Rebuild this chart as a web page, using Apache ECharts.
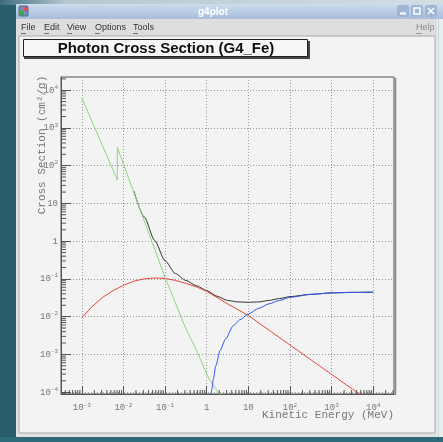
<!DOCTYPE html>
<html>
<head>
<meta charset="utf-8">
<script src="https://cdn.jsdelivr.net/npm/echarts@6/dist/echarts.min.js"></script>
<style>
  html, body { margin: 0; padding: 0; background: #2a5e6c; }
  #chart { width: 443px; height: 442px; }
</style>
</head>
<body>
<div id="chart"></div>
<script>
  // log10(E/MeV) and log10(sigma / cm2 g-1)
  var photoLogE = [-3, -2.699, -2.398, -2.149, -2.147, -2, -1.7, -1.3, -1, -0.52, -0.22, 0.055, 0.32];
  var photoLogXS = [3.8, 3.03, 2.26, 1.62, 2.48, 2.04, 1.14, -0.06, -0.96, -2.27, -2.95, -3.65, -4.07];

  var comptonLogE = [-3, -2.75, -2.5, -2.25, -2, -1.75, -1.5, -1.25, -1, -0.75, -0.5, -0.25, 0, 0.5, 1, 1.5, 2, 2.5, 3, 3.5, 4];
  var comptonLogXS = [-2.03, -1.73, -1.49, -1.31, -1.17, -1.06, -1.0, -0.975, -0.99, -1.04, -1.12, -1.21, -1.33, -1.66, -1.97, -2.36, -2.75, -3.14, -3.53, -3.92, -4.31];

  var pairLogE = [0.08, 0.12, 0.16, 0.22, 0.32, 0.45, 0.64, 0.8, 1.0, 1.25, 1.5, 1.75, 2, 2.5, 3, 3.5, 4];
  var pairLogXS = [-4.3, -3.95, -3.65, -3.3, -2.9, -2.6, -2.24, -2.08, -1.93, -1.78, -1.66, -1.57, -1.49, -1.41, -1.37, -1.36, -1.355];

  var totalLogE = [-1.75, -1.5, -1.25, -1, -0.75, -0.5, -0.25, 0, 0.25, 0.5, 0.75, 1, 1.25, 1.5, 1.75, 2, 2.5, 3, 3.5, 4];
  var totalLogXS = [1.33, 0.64, 0.02, -0.52, -0.86, -1.04, -1.18, -1.31, -1.46, -1.57, -1.61, -1.62, -1.61, -1.57, -1.52, -1.47, -1.41, -1.37, -1.355, -1.35];

  var xMin = -3.5, xMax = 4.5;
  var yMin = -4.05, yMax = 4.35;

  function pairs(xs, ys) {
    return xs.map(function (x, i) { return [x, ys[i]]; });
  }

  // minor tick positions (2..9 in each decade)
  function minorPos(lo, hi) {
    var out = [];
    for (var n = -5; n <= 5; n++) {
      for (var k = 2; k <= 9; k++) {
        var v = n + Math.log10(k);
        if (v > lo && v < hi) out.push(v);
      }
    }
    return out;
  }

  function powLabel(v) {
    if (Math.abs(v - Math.round(v)) > 1e-6) return '';
    var n = Math.round(v);
    if (n === 0) return '{b|1}';
    if (n === 1) return '{b|10}';
    return '{b|10}{s|' + n + '}';
  }

  var labelRich = {
    b: { fontSize: 9, lineHeight: 12, color: '#777', fontFamily: 'Liberation Mono' },
    s: { fontSize: 6, lineHeight: 7, color: '#777', fontFamily: 'Liberation Mono', verticalAlign: 'top' }
  };

  var mono = 'Liberation Mono';
  var sans = 'Liberation Sans';

  var menuItems = [['File', 21], ['Edit', 44], ['View', 67], ['Options', 95], ['Tools', 133]];
  var menuGraphics = [];
  menuItems.forEach(function (m) {
    menuGraphics.push({ type: 'text', z: -8, style: { x: m[1], y: 28, text: m[0], fill: '#333', font: '9px ' + sans, verticalAlign: 'middle' } });
    menuGraphics.push({ type: 'line', z: -8, shape: { x1: m[1], y1: 33.5, x2: m[1] + 5, y2: 33.5 }, style: { stroke: '#555', lineWidth: 0.8 } });
  });

  var chart = echarts.init(document.getElementById('chart'));

  var option = {
    backgroundColor: '#2a5e6c',
    animation: false,
    graphic: [
      { type: 'rect', z: -10, shape: { x: 0, y: 0, width: 443, height: 5 },
        style: { fill: new echarts.graphic.LinearGradient(0, 0, 1, 0, [{ offset: 0, color: '#3d6e7b' }, { offset: 0.15, color: '#b7c8d2' }, { offset: 1, color: '#d3dde4' }]) } },
      { type: 'rect', z: -10, shape: { x: 16, y: 4, width: 427, height: 434 }, style: { fill: '#e2e2e2' } },
      { type: 'rect', z: -9, shape: { x: 16, y: 4, width: 427, height: 15 },
        style: { fill: new echarts.graphic.LinearGradient(0, 0, 0, 1, [{ offset: 0, color: '#cddcec' }, { offset: 1, color: '#a6bedb' }]) } },
      { type: 'rect', z: -8, shape: { x: 19, y: 6, width: 9, height: 10, r: 1 }, style: { fill: '#6f8fb5', stroke: '#4d6b90' } },
      { type: 'rect', z: -8, shape: { x: 20, y: 11, width: 4, height: 4 }, style: { fill: '#3fae3f' } },
      { type: 'rect', z: -8, shape: { x: 24, y: 7, width: 3, height: 4 }, style: { fill: '#e05050' } },
      { type: 'text', z: -8, style: { x: 213, y: 12, text: 'g4plot', fill: '#ffffff', font: 'bold 10px ' + sans, align: 'center', verticalAlign: 'middle' } },
      { type: 'rect', z: -8, shape: { x: 397, y: 5, width: 12, height: 12, r: 2 }, style: { fill: '#9fb7d4' } },
      { type: 'rect', z: -8, shape: { x: 411, y: 5, width: 12, height: 12, r: 2 }, style: { fill: '#9fb7d4' } },
      { type: 'rect', z: -8, shape: { x: 425, y: 5, width: 12, height: 12, r: 2 }, style: { fill: '#9fb7d4' } },
      { type: 'line', z: -7, shape: { x1: 400, y1: 13.5, x2: 406, y2: 13.5 }, style: { stroke: '#ffffff', lineWidth: 2 } },
      { type: 'rect', z: -7, shape: { x: 414, y: 8, width: 6, height: 6 }, style: { fill: 'none', stroke: '#ffffff', lineWidth: 1.5 } },
      { type: 'line', z: -7, shape: { x1: 428, y1: 8, x2: 434, y2: 14 }, style: { stroke: '#ffffff', lineWidth: 1.5 } },
      { type: 'line', z: -7, shape: { x1: 434, y1: 8, x2: 428, y2: 14 }, style: { stroke: '#ffffff', lineWidth: 1.5 } },
      { type: 'rect', z: -9, shape: { x: 16, y: 19, width: 427, height: 17 }, style: { fill: '#dedede' } },
      { type: 'text', z: -8, style: { x: 416, y: 28, text: 'Help', fill: '#8a8a8a', font: '9px ' + sans, verticalAlign: 'middle' } },
      { type: 'line', z: -8, shape: { x1: 416, y1: 33.5, x2: 422, y2: 33.5 }, style: { stroke: '#8a8a8a', lineWidth: 0.8 } },
      { type: 'rect', z: -9, shape: { x: 19, y: 36, width: 416, height: 397 }, style: { fill: '#f3f3f3', stroke: '#a8a8a8', lineWidth: 1 } },
      { type: 'rect', z: -9, shape: { x: 437, y: 19, width: 6, height: 419 }, style: { fill: '#e9eef1' } },
      { type: 'line', z: -8, shape: { x1: 438.5, y1: 19, x2: 438.5, y2: 437 }, style: { stroke: '#c4d6e2', lineWidth: 1 } },
      { type: 'rect', z: -9, shape: { x: 0, y: 437, width: 443, height: 5 }, style: { fill: '#2f6a78' } },
      // title box
      { type: 'rect', z: 5, shape: { x: 24, y: 41, width: 286, height: 18 }, style: { fill: '#444' } },
      { type: 'rect', z: 6, shape: { x: 23.5, y: 39.5, width: 284, height: 17 }, style: { fill: '#f7f7f7', stroke: '#222', lineWidth: 1 } },
      { type: 'text', z: 7, style: { x: 166, y: 48.5, text: 'Photon Cross Section (G4_Fe)', fill: '#111', font: 'bold 15px ' + sans, align: 'center', verticalAlign: 'middle' } },
      // axis titles
      { type: 'text', z: 7, x: 42, y: 145, rotation: Math.PI / 2,
        style: { x: 0, y: 0, text: 'Cross Section (cm²/g)', fill: '#777', font: '11px ' + mono, align: 'center', verticalAlign: 'middle' } },
      { type: 'text', z: 7, style: { x: 394, y: 415, text: 'Kinetic Energy (MeV)', fill: '#777', font: '11px ' + mono, align: 'right', verticalAlign: 'middle' } },
      // frame shadow on the right
      { type: 'line', z: 7, shape: { x1: 395.5, y1: 78, x2: 395.5, y2: 395 }, style: { stroke: '#888', lineWidth: 1.5 } }
    ].concat(menuGraphics),
    grid: {
      left: 61, top: 77, width: 333, height: 317,
      show: true, backgroundColor: '#f3f3f3', borderColor: '#555', borderWidth: 1
    },
    xAxis: {
      type: 'value', min: xMin, max: xMax, splitNumber: 8,
      axisLine: { show: true, onZero: false, lineStyle: { color: '#555', width: 1 } },
      axisTick: { show: true, inside: true, length: 8, lineStyle: { color: '#555' } },
      splitLine: { show: true, lineStyle: { color: '#9a9a9a', type: [1, 2], width: 1 } },
      axisLabel: { formatter: powLabel, rich: labelRich, margin: 8, showMinLabel: false, showMaxLabel: false }
    },
    yAxis: {
      type: 'value', min: yMin, max: yMax, splitNumber: 8,
      axisLine: { show: true, onZero: false, lineStyle: { color: '#555', width: 1 } },
      axisTick: { show: true, inside: true, length: 10, lineStyle: { color: '#555' } },
      splitLine: { show: true, lineStyle: { color: '#9a9a9a', type: [1, 2], width: 1 } },
      axisLabel: { formatter: powLabel, rich: labelRich, margin: 3, showMinLabel: false, showMaxLabel: false }
    },
    series: [
      {
        type: 'custom', silent: true, z: 3,
        data: minorPos(xMin, xMax).map(function (v) { return [v, yMin]; }),
        renderItem: function (params, api) {
          var p = api.coord([api.value(0), yMin]);
          return { type: 'line', shape: { x1: p[0], y1: p[1], x2: p[0], y2: p[1] - 4 }, style: { stroke: '#555', lineWidth: 1 } };
        }
      },
      {
        type: 'custom', silent: true, z: 3,
        data: minorPos(yMin, yMax).map(function (v) { return [xMin, v]; }),
        renderItem: function (params, api) {
          var p = api.coord([xMin, api.value(1)]);
          return { type: 'line', shape: { x1: p[0], y1: p[1], x2: p[0] + 5, y2: p[1] }, style: { stroke: '#555', lineWidth: 1 } };
        }
      },
      {
        name: 'total', type: 'line', z: 2, showSymbol: false, smooth: 0.25, smoothMonotone: 'x',
        data: pairs(totalLogE, totalLogXS), lineStyle: { color: '#333333', width: 1 }
      },
      {
        name: 'compt', type: 'line', z: 4, showSymbol: false,
        data: pairs(comptonLogE, comptonLogXS), lineStyle: { color: '#e8453c', width: 1 }
      },
      {
        name: 'phot', type: 'line', z: 4, showSymbol: false,
        data: pairs(photoLogE, photoLogXS), lineStyle: { color: '#8fd480', width: 1 }
      },
      {
        name: 'conv', type: 'line', z: 4, showSymbol: false, smooth: 0.25, smoothMonotone: 'x',
        data: pairs(pairLogE, pairLogXS), lineStyle: { color: '#3355ee', width: 1 }
      }
    ]
  };

  chart.setOption(option);
</script>
</body>
</html>
